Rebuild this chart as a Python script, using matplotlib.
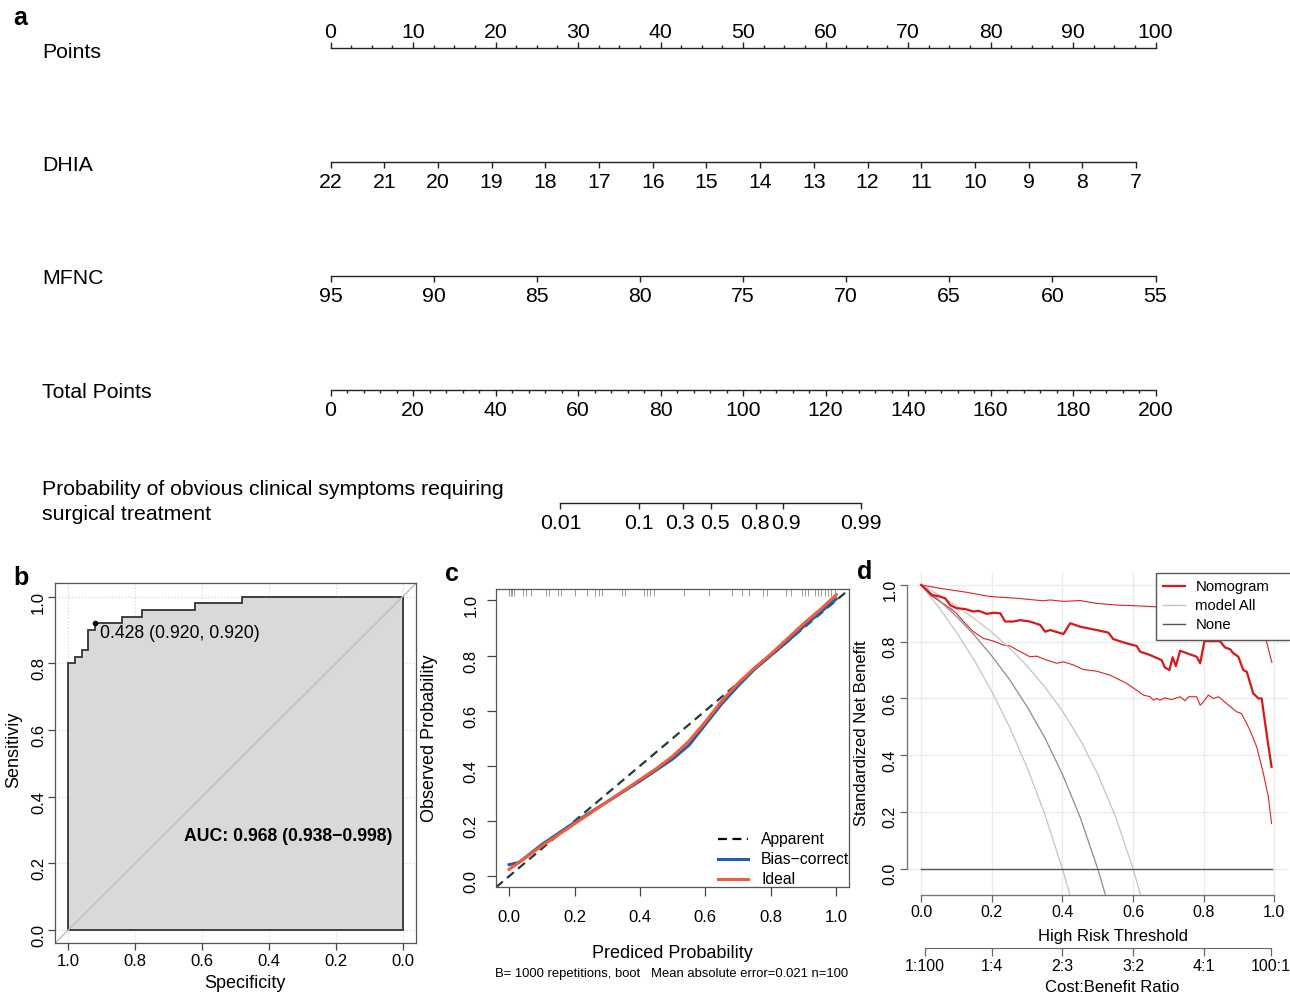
import numpy as np
import matplotlib
matplotlib.use("Agg")
import matplotlib.pyplot as plt
from matplotlib.ticker import MultipleLocator
from matplotlib.lines import Line2D
from matplotlib.transforms import ScaledTranslation

plt.rcParams['font.family'] = ['Liberation Sans', 'DejaVu Sans']

W, H = 1290, 993

# ---- a: nomogram ----
dhia_vals = [22, 21, 20, 19, 18, 17, 16, 15, 14, 13, 12, 11, 10, 9, 8, 7]
dhia_pts_per_unit = 6.51
mfnc_vals = [95, 90, 85, 80, 75, 70, 65, 60, 55]
mfnc_pts_per_unit = 2.5
prob_ticks = [0.01, 0.1, 0.3, 0.5, 0.8, 0.9, 0.99]
prob_labels = ["0.01", "0.1", "0.3", "0.5", "0.8", "0.9", "0.99"]
total_at_half = 92.2      # total points where predicted risk = 0.5
total_per_logit = 7.94

# ---- b: ROC ----
roc_spec = [1.0, 1.0, 0.98, 0.98, 0.96, 0.96, 0.94, 0.94, 0.92, 0.92, 0.84, 0.84,
            0.78, 0.78, 0.62, 0.62, 0.48, 0.48, 0.0]
roc_sens = [0.0, 0.80, 0.80, 0.82, 0.82, 0.84, 0.84, 0.90, 0.90, 0.92, 0.92, 0.94,
            0.94, 0.96, 0.96, 0.98, 0.98, 1.0, 1.0]
best_cut = (0.92, 0.92)

# ---- c: calibration ----
cal_x = [0.0, 0.03, 0.1, 0.2, 0.3, 0.4, 0.45, 0.5, 0.55, 0.6, 0.65, 0.7, 0.75, 0.8, 0.85, 0.9, 0.95, 1.0]
cal_bias = [0.042, 0.05, 0.115, 0.195, 0.27, 0.345, 0.385, 0.425, 0.475, 0.55, 0.625, 0.69,
            0.75, 0.80, 0.85, 0.905, 0.955, 1.005]
cal_ideal = [0.025, 0.05, 0.11, 0.19, 0.27, 0.35, 0.39, 0.435, 0.49, 0.56, 0.635, 0.70,
             0.755, 0.805, 0.86, 0.915, 0.965, 1.02]
rug_x = [0.0, 0.0, 0.005, 0.01, 0.015, 0.044, 0.051, 0.066, 0.112, 0.122, 0.149, 0.158,
         0.203, 0.239, 0.264, 0.274, 0.284, 0.345, 0.355, 0.411, 0.421, 0.432, 0.442,
         0.535, 0.612, 0.68, 0.711, 0.734, 0.775, 0.789, 0.848, 0.863, 0.894, 0.904,
         0.914, 0.934, 0.944, 0.955, 0.965, 0.975, 0.985, 0.995]

# ---- d: decision curve ----
nomo_x = [0.0, 0.03, 0.05, 0.068, 0.082, 0.10, 0.125, 0.148, 0.162, 0.186, 0.205, 0.224,
          0.238, 0.261, 0.28, 0.308, 0.337, 0.351, 0.365, 0.403, 0.422, 0.45, 0.497, 0.53,
          0.544, 0.582, 0.61, 0.62, 0.648, 0.681, 0.69, 0.703, 0.712, 0.721, 0.733, 0.78,
          0.79, 0.802, 0.846, 0.86, 0.875, 0.884, 0.898, 0.912, 0.922, 0.94, 0.955, 0.964,
          0.978, 0.992]
nomo_y = [1.0, 0.965, 0.96, 0.953, 0.929, 0.918, 0.915, 0.906, 0.909, 0.898, 0.902, 0.90,
          0.871, 0.871, 0.876, 0.871, 0.859, 0.835, 0.841, 0.827, 0.865, 0.853, 0.841, 0.832,
          0.809, 0.794, 0.785, 0.765, 0.753, 0.735, 0.709, 0.70, 0.745, 0.714, 0.768, 0.747,
          0.724, 0.802, 0.802, 0.78, 0.773, 0.759, 0.747, 0.70, 0.694, 0.618, 0.60, 0.60,
          0.476, 0.359]
upper_x = [0.0, 0.054, 0.129, 0.195, 0.271, 0.346, 0.365, 0.403, 0.45, 0.497, 0.554, 0.601,
           0.662, 0.75, 0.85, 0.93, 0.96, 0.974, 0.993]
upper_y = [1.0, 0.988, 0.974, 0.959, 0.953, 0.944, 0.947, 0.942, 0.945, 0.935, 0.929, 0.927,
           0.923, 0.92, 0.915, 0.905, 0.88, 0.818, 0.727]
lower_x = [0.0, 0.025, 0.054, 0.082, 0.1, 0.12, 0.148, 0.176, 0.205, 0.233, 0.252, 0.271,
           0.308, 0.327, 0.356, 0.384, 0.403, 0.431, 0.459, 0.497, 0.535, 0.582, 0.61, 0.629,
           0.648, 0.658, 0.667, 0.676, 0.69, 0.709, 0.733, 0.747, 0.757, 0.78, 0.79, 0.799,
           0.813, 0.827, 0.842, 0.865, 0.893, 0.907, 0.931, 0.95, 0.969, 0.983, 0.992]
lower_y = [1.0, 0.965, 0.941, 0.918, 0.9, 0.871, 0.835, 0.812, 0.802, 0.788, 0.785, 0.771,
           0.747, 0.749, 0.735, 0.724, 0.729, 0.718, 0.702, 0.696, 0.682, 0.653, 0.629, 0.612,
           0.606, 0.594, 0.6, 0.594, 0.602, 0.596, 0.606, 0.592, 0.606, 0.606, 0.576, 0.588,
           0.612, 0.6, 0.606, 0.582, 0.553, 0.547, 0.488, 0.429, 0.335, 0.253, 0.159]
all_lo_x = [0.0, 0.05, 0.1, 0.15, 0.2, 0.25, 0.3, 0.35, 0.4, 0.43]
all_lo_y = [1.0, 0.921, 0.833, 0.735, 0.625, 0.5, 0.357, 0.192, 0.0, -0.13]
all_mid_x = [0.0, 0.05, 0.1, 0.15, 0.2, 0.25, 0.3, 0.35, 0.4, 0.45, 0.5, 0.53]
all_mid_y = [1.0, 0.947, 0.889, 0.824, 0.75, 0.667, 0.571, 0.462, 0.333, 0.182, 0.0, -0.128]
all_hi_x = [0.0, 0.05, 0.1, 0.15, 0.2, 0.25, 0.3, 0.35, 0.4, 0.45, 0.5, 0.55, 0.6, 0.63]
all_hi_y = [1.0, 0.965, 0.926, 0.882, 0.833, 0.778, 0.714, 0.641, 0.556, 0.455, 0.333, 0.185,
            0.0, -0.13]
none_x = [0.0, 0.992]
none_y = [0.0, 0.0]
cb_ticks = [0.01, 0.2, 0.4, 0.6, 0.8, 0.99]
cb_labels = ["1:100", "1:4", "2:3", "3:2", "4:1", "100:1"]

fig = plt.figure(figsize=(W / 100, H / 100), dpi=100)


def ftext(x, y, s, **kw):
    fig.text(x / W, 1 - y / H, s, **kw)


def rect(x0, y0, x1, y1):
    return [x0 / W, 1 - y1 / H, (x1 - x0) / W, (y1 - y0) / H]


nom_font = 15.3


def scale_row(y_line, where, xmax):
    # thin axes whose top/bottom edge lies on the nomogram line
    if where == 'top':
        ax = fig.add_axes(rect(330.5, y_line, 1155.5, y_line + 2))
        ax.xaxis.tick_top()
        pad = 0
    else:
        ax = fig.add_axes(rect(330.5, y_line - 2, 1155.5, y_line))
        pad = 3.8
    ax.set_facecolor('none')
    for s in ax.spines.values():
        s.set_visible(False)
    ax.spines[where].set_visible(True)
    ax.spines[where].set_linewidth(1.0)
    ax.spines[where].set_color('#222222')
    ax.set_yticks([])
    ax.set_xlim(0, xmax)
    ax.tick_params(axis='x', which='major', direction='out', length=4.2, width=1.0,
                   color='#222222', labelsize=nom_font, pad=pad)
    ax.tick_params(axis='x', which='minor', direction='out', length=2.3, width=1.0,
                   color='#222222')
    return ax


ftext(20, 18, "a", fontsize=18, fontweight='bold', ha='center', va='center')

ax = scale_row(48, 'top', 100)
ax.xaxis.set_major_locator(MultipleLocator(10))
ax.xaxis.set_minor_locator(MultipleLocator(2.5))
ftext(42, 53, "Points", fontsize=nom_font, va='center')

ax = scale_row(162, 'bottom', 100)
dhia_pts = [(dhia_vals[0] - v) * dhia_pts_per_unit for v in dhia_vals]
ax.set_xticks(dhia_pts, [str(v) for v in dhia_vals])
ax.spines['bottom'].set_bounds(dhia_pts[0], dhia_pts[-1])
ftext(42, 165, "DHIA", fontsize=nom_font, va='center')

ax = scale_row(276, 'bottom', 100)
mfnc_pts = [(mfnc_vals[0] - v) * mfnc_pts_per_unit for v in mfnc_vals]
ax.set_xticks(mfnc_pts, [str(v) for v in mfnc_vals])
ax.spines['bottom'].set_bounds(mfnc_pts[0], mfnc_pts[-1])
ftext(42, 279, "MFNC", fontsize=nom_font, va='center')

ax = scale_row(390, 'bottom', 200)
ax.xaxis.set_major_locator(MultipleLocator(20))
ax.xaxis.set_minor_locator(MultipleLocator(4))
ftext(42, 393, "Total Points", fontsize=nom_font, va='center')

ax = scale_row(503, 'bottom', 200)
prob_pos = [total_at_half + total_per_logit * np.log(p / (1 - p)) for p in prob_ticks]
ax.set_xticks(prob_pos, prob_labels)
ax.spines['bottom'].set_bounds(prob_pos[0], prob_pos[-1])
# crowded labels nudged apart a little, as in the printed nomogram
for lab, dx in zip(ax.get_xticklabels(), [0, 0, -2.2, 3.2, -1.2, 2.6, 0]):
    if dx:
        lab.set_transform(lab.get_transform() + ScaledTranslation(dx / 72, 0, fig.dpi_scale_trans))
ftext(42, 502, "Probability of obvious clinical symptoms requiring\nsurgical treatment",
      fontsize=nom_font, va='center', linespacing=1.4)

# ---- b ----
ax_b = fig.add_axes(rect(55, 583.3, 416, 943.3))
ax_b.set_xlim(1.04, -0.04)
ax_b.set_ylim(-0.04, 1.04)
ticks = [0.0, 0.2, 0.4, 0.6, 0.8, 1.0]
for t in ticks:
    ax_b.axhline(t, color='#d8d8d8', ls=':', lw=0.9, zorder=0)
    ax_b.axvline(t, color='#d8d8d8', ls=':', lw=0.9, zorder=0)
ax_b.fill(np.r_[roc_spec, 0.0], np.r_[roc_sens, 0.0], facecolor='#d9d9d9',
          edgecolor='#333333', lw=1.3, zorder=1)
ax_b.axline((1, 0), (0, 1), color='#bdbdbd', lw=1.0, zorder=2)
ax_b.plot(*best_cut, 'o', color='black', ms=3, zorder=3)
ax_b.text(0.905, 0.89, "0.428 (0.920, 0.920)", fontsize=12.7, va='center', ha='left')
ax_b.text(0.343, 0.279, "AUC: 0.968 (0.938\u22120.998)", fontsize=12.7, fontweight='bold',
          ha='center', va='center')
ax_b.set_xticks(ticks[::-1], ["%.1f" % t for t in ticks[::-1]])
ax_b.set_yticks(ticks, ["%.1f" % t for t in ticks])
ax_b.tick_params(direction='out', length=5, width=0.9, color='#444444', labelsize=12, pad=2.5)
ax_b.tick_params(axis='y', labelrotation=90, pad=1.5)
for s in ax_b.spines.values():
    s.set_color('#555555')
    s.set_linewidth(0.9)
ftext(245, 983, "Specificity", fontsize=13, ha='center', va='center')
ftext(14, 750, "Sensitiviy", fontsize=13, ha='center', va='center', rotation=90)
ftext(21, 578, "b", fontsize=18, fontweight='bold', ha='center', va='center')

# ---- c ----
ax_c = fig.add_axes(rect(496, 589.3, 849.3, 887.3))
ax_c.set_xlim(-0.04, 1.04)
ax_c.set_ylim(-0.04, 1.04)
ax_c.axline((0, 0), (1, 1), color='#1e3d3d', lw=1.6, ls=(0, (4, 2.5)), zorder=2)
ax_c.plot(cal_x, cal_bias, color='#2160a8', lw=2.2, zorder=3)
ax_c.plot(cal_x, cal_ideal, color='#f45a3c', lw=2.2, zorder=4)
ax_c.vlines(rug_x, 1.016, 1.04, color='#9a9a9a', lw=0.7, zorder=1)
cticks = [0.0, 0.2, 0.4, 0.6, 0.8, 1.0]
ax_c.set_xticks(cticks, ["%.1f" % t for t in cticks])
ax_c.set_yticks(cticks, ["%.1f" % t for t in cticks])
ax_c.tick_params(direction='out', length=6.5, width=0.9, color='#444444', labelsize=12, pad=9.5)
ax_c.tick_params(axis='y', labelrotation=90, pad=6)
for s in ax_c.spines.values():
    s.set_color('#555555')
    s.set_linewidth(0.9)
handles = [Line2D([], [], color='black', lw=1.6, ls=(0, (4, 2.5))),
           Line2D([], [], color='#2160a8', lw=2.2),
           Line2D([], [], color='#f45a3c', lw=2.2)]
leg_c = ax_c.legend(handles, ["Apparent", "Bias\u2212correct", "Ideal"], loc='lower left',
                    bbox_to_anchor=(0.628, 0.0), frameon=False, fontsize=11.3, borderpad=0,
                    borderaxespad=0, handlelength=1.9, handletextpad=0.85, labelspacing=0.32)
for t in leg_c.get_texts():
    t.set_clip_box(ax_c.bbox)
    t.set_clip_on(True)
ftext(672, 954, "Prediced Probability", fontsize=13, ha='center', va='center')
ftext(672, 974, "B= 1000 repetitions, boot   Mean absolute error=0.021 n=100",
      fontsize=9.35, ha='center', va='center')
ftext(430, 738, "Observed Probability", fontsize=13, ha='center', va='center', rotation=90)
ftext(452, 574, "c", fontsize=18, fontweight='bold', ha='center', va='center')

# ---- d ----
ax_d = fig.add_axes(rect(907, 573, 1288.5, 895))
ax_d.set_xlim(-0.04, 1.04)
ax_d.set_ylim(-0.0925, 1.042)
dticks = [0.0, 0.2, 0.4, 0.6, 0.8, 1.0]
for t in dticks:
    ax_d.axhline(t, color='#ebebeb', lw=1.0, zorder=0)
    ax_d.axvline(t, color='#ebebeb', lw=1.0, zorder=0)
ax_d.plot(upper_x, upper_y, color='#e02020', lw=0.8, zorder=2)
ax_d.plot(lower_x, lower_y, color='#e02020', lw=0.8, zorder=2)
ax_d.plot(nomo_x, nomo_y, color='#d81818', lw=1.6, zorder=3)
ax_d.plot(all_lo_x, all_lo_y, color='#c4c4c4', lw=0.9, zorder=2)
ax_d.plot(all_hi_x, all_hi_y, color='#c4c4c4', lw=0.9, zorder=2)
ax_d.plot(all_mid_x, all_mid_y, color='#8c8c8c', lw=0.9, zorder=2)
ax_d.plot(none_x, none_y, color='#555555', lw=1.0, zorder=2)
ax_d.set_xticks(dticks, ["%.1f" % t for t in dticks])
ax_d.set_yticks(dticks, ["%.1f" % t for t in dticks])
ax_d.tick_params(direction='out', length=5, width=0.9, color='#666666', labelsize=11.5, pad=2)
ax_d.tick_params(axis='y', labelrotation=90)
for k in ['top', 'right']:
    ax_d.spines[k].set_visible(False)
for k in ['left', 'bottom']:
    ax_d.spines[k].set_bounds(0, 1)
    ax_d.spines[k].set_color('#777777')
    ax_d.spines[k].set_linewidth(1.0)
dh = [Line2D([], [], color='#d81818', lw=1.6),
      Line2D([], [], color='#c4c4c4', lw=1.0),
      Line2D([], [], color='#555555', lw=1.0)]
leg = fig.legend(dh, ["Nomogram", "model All", "None"], loc='upper left', mode='expand',
                 bbox_to_anchor=(1156 / W, 1 - 637 / H, 200 / W, 64 / H), fontsize=10.7,
                 fancybox=False, framealpha=1, edgecolor='#555555', borderpad=0.5,
                 handlelength=1.45, handletextpad=0.7, labelspacing=0.33, borderaxespad=0)
leg.get_frame().set_linewidth(1.0)

ax_cb = fig.add_axes(rect(907, 946, 1288.5, 948))
ax_cb.set_facecolor('none')
for s in ax_cb.spines.values():
    s.set_visible(False)
ax_cb.spines['bottom'].set_visible(True)
ax_cb.spines['bottom'].set_color('#666666')
ax_cb.spines['bottom'].set_bounds(cb_ticks[0], cb_ticks[-1])
ax_cb.set_xlim(-0.04, 1.04)
ax_cb.set_yticks([])
ax_cb.set_xticks(cb_ticks, cb_labels)
ax_cb.tick_params(direction='out', length=6, width=0.9, color='#666666', labelsize=11.5, pad=2)

ftext(1113, 936, "High Risk Threshold", fontsize=12, ha='center', va='center')
ftext(1112, 987, "Cost:Benefit Ratio", fontsize=12, ha='center', va='center')
ftext(862, 733, "Standardized Net Benefit", fontsize=12, ha='center', va='center', rotation=90)
ftext(865, 572, "d", fontsize=18, fontweight='bold', ha='center', va='center')

fig.savefig("out.png", dpi=100)
